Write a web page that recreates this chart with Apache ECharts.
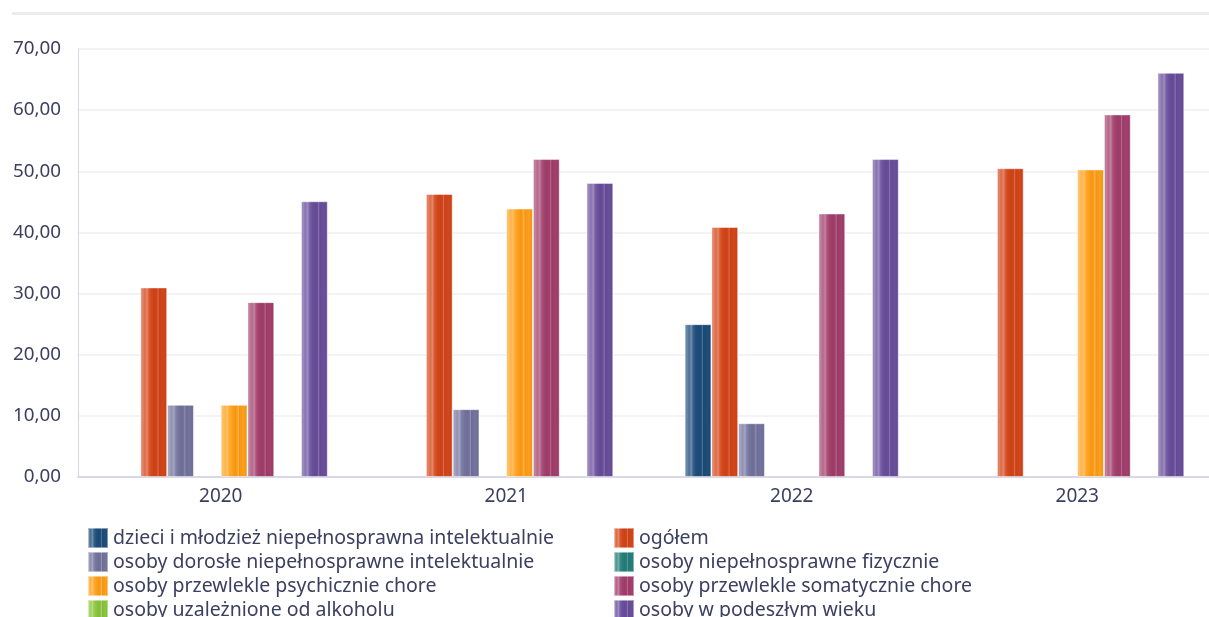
<!DOCTYPE html>
<html>
<head>
<meta charset="utf-8">
<script src="https://cdn.jsdelivr.net/npm/echarts@6/dist/echarts.min.js"></script>
<style>html,body{margin:0;padding:0;background:#fff;overflow:hidden}#c{width:1240px;height:617px}</style>
</head>
<body>
<div id="c"></div>
<script>
const categories = ['2020', '2021', '2022', '2023'];
const seriesNames = [
  'dzieci i młodzież niepełnosprawna intelektualnie',
  'ogółem',
  'osoby dorosłe niepełnosprawne intelektualnie',
  'osoby niepełnosprawne fizycznie',
  'osoby przewlekle psychicznie chore',
  'osoby przewlekle somatycznie chore',
  'osoby uzależnione od alkoholu',
  'osoby w podeszłym wieku'
];
const dzieci = [null, null, 25.0, null];
const ogolem = [31.0, 46.3, 40.9, 50.5];
const dorosle = [11.8, 11.1, 8.8, null];
const fizycznie = [null, null, null, null];
const psychicznie = [11.8, 43.9, null, 50.3];
const somatycznie = [28.6, 52.0, 43.1, 59.3];
const alkohol = [null, null, null, null];
const podeszly = [45.1, 48.1, 52.0, 66.1];
const yTicks = [0, 10, 20, 30, 40, 50, 60, 70];

const seriesData = [dzieci, ogolem, dorosle, fizycznie, psychicznie, somatycznie, alkohol, podeszly];
const baseColors = ['#1e4e7c', '#d4461a', '#74749f', '#25807c', '#ffa01a', '#a3406d', '#8cc63f', '#6a4f9c'];

function mix(hex, target, t) {
  const n = parseInt(hex.slice(1), 16);
  const r = (n >> 16) & 255, g = (n >> 8) & 255, b = n & 255;
  const tv = target === 'w' ? 255 : 0;
  const f = v => Math.round(v + (tv - v) * t);
  return 'rgb(' + f(r) + ',' + f(g) + ',' + f(b) + ')';
}
function stripe(c) {
  const L1 = mix(c, 'w', 0.35), L2 = mix(c, 'w', 0.2), L3 = mix(c, 'w', 0.1), D = mix(c, 'b', 0.06);
  return {
    type: 'linear', x: 0, y: 0, x2: 1, y2: 0,
    colorStops: [
      {offset: 0, color: L2}, {offset: 0.08, color: L1}, {offset: 0.16, color: L2},
      {offset: 0.25, color: L1}, {offset: 0.32, color: L3}, {offset: 0.42, color: c},
      {offset: 0.55, color: D}, {offset: 0.62, color: c}, {offset: 0.66, color: L2},
      {offset: 0.7, color: D}, {offset: 0.85, color: c}, {offset: 0.93, color: D},
      {offset: 1, color: L3}
    ]
  };
}
const fmt = v => v.toFixed(2).replace('.', ',');

const series = seriesNames.map((name, i) => ({
  name: name,
  type: 'bar',
  data: seriesData[i],
  barGap: '0%',
  barCategoryGap: '25%',
  itemStyle: {color: stripe(baseColors[i]), borderColor: 'rgba(255,255,255,0.45)', borderWidth: 1},
  emphasis: {disabled: true}
}));

const textColor = '#3c4060';
const fontFamily = '"Noto Sans", sans-serif';
const legendCommon = {
  orient: 'vertical', top: 527, height: 100, itemWidth: 20, itemHeight: 20, itemGap: 2,
  icon: 'rect', padding: 0,
  textStyle: {color: textColor, fontSize: 19.5, lineHeight: 20, fontFamily: fontFamily},
  selectedMode: false
};

const chart = echarts.init(document.getElementById('c'), null, {renderer: 'canvas'});
chart.setOption({
  animation: false,
  backgroundColor: '#fff',
  textStyle: {fontFamily: fontFamily},
  graphic: [{type: 'rect', shape: {x: 12, y: 12, width: 1228, height: 3}, style: {fill: '#ebebf0'}}],
  grid: {left: 78, top: 49, width: 1142, height: 428, containLabel: false},
  legend: [
    Object.assign({left: 87, data: [seriesNames[0], seriesNames[2], seriesNames[4], seriesNames[6]]}, legendCommon),
    Object.assign({left: 613, data: [seriesNames[1], seriesNames[3], seriesNames[5], seriesNames[7]]}, legendCommon)
  ],
  xAxis: {
    type: 'category', data: categories,
    axisLine: {lineStyle: {color: '#cfcfe2', width: 1.5}},
    axisTick: {show: false},
    axisLabel: {color: textColor, fontSize: 19, margin: 10, fontFamily: fontFamily}
  },
  yAxis: {
    type: 'value', min: yTicks[0], max: yTicks[yTicks.length - 1], interval: 10,
    axisLine: {show: true, lineStyle: {color: '#d6d6e6', width: 1}},
    axisTick: {show: false},
    splitLine: {lineStyle: {color: '#efeff2', width: 1.5}},
    axisLabel: {color: textColor, fontSize: 18.8, margin: 17, formatter: fmt, fontFamily: fontFamily}
  },
  series: series
});
</script>
</body>
</html>
